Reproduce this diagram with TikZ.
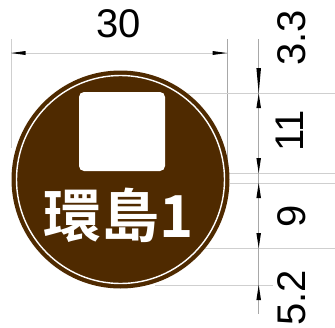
\documentclass[tikz,border=0pt]{standalone}
\usepackage{fontspec}
\setmainfont{Liberation Sans}
\newfontfamily\cjk{Noto Sans CJK TC}[BoldFont={* Bold}]
\definecolor{signbrown}{HTML}{4F2A00}
\definecolor{dimline}{HTML}{CFCFCF}
\definecolor{dimdark}{HTML}{A8A8A8}
\tikzset{
 extline/.style={draw=dimline,line width=0.9pt},
 dimv/.style={draw=dimdark,line width=0.7pt},
 tipa/.style={fill=black,draw=none},
 dimlabel/.style={font=\fontsize{40}{40}\selectfont,text=black,inner sep=0pt},
 rotlabel/.style={dimlabel,rotate=90}
}
\begin{document}
\begin{tikzpicture}[x=1pt,y=-1pt]
\useasboundingbox (0,0) rectangle (335,327);
\fill[white] (0,0) rectangle (335,327);
% extension lines
\coordinate (L1) at (11,39); \coordinate (L2) at (11,148);
\coordinate (R1) at (227,39); \coordinate (R2) at (227,170);
\draw[extline] (L1) -- (L2);
\draw[dimv] (R1) -- (R2);
\coordinate (H0a) at (165,93.5); \coordinate (H0b) at (335,93.5);
\coordinate (H1a) at (165,173); \coordinate (H1b) at (335,173);
\coordinate (H2a) at (230,183); \coordinate (H2b) at (335,183);
\coordinate (H3a) at (205,248); \coordinate (H3b) at (335,248);
\coordinate (H4a) at (155,285); \coordinate (H4b) at (273,285);
\draw[extline] (H0a) -- (H0b);
\draw[extline] (H1a) -- (H1b);
\draw[extline] (H2a) -- (H2b);
\draw[extline] (H3a) -- (H3b);
\draw[extline] (H4a) -- (H4b);
% sign
\fill[signbrown] (120.5,179.5) circle (109);
\draw[white,line width=1.4pt] (120.5,179.5) circle (104);
\fill[white,rounded corners=5pt] (79,92) rectangle (165,171);
\node[inner sep=0pt,text=white,font=\cjk\bfseries\fontsize{58}{58}\selectfont,anchor=center] (sign) at (119,215) {環島1};
% horizontal dimension
\draw[extline] (L1 |- 0,53) coordinate (DL) -- (R1 |- 0,53) coordinate (DR);
\fill[tipa] (DL) -- (25.5,51) -- (25.5,55) -- cycle;
\fill[tipa] (DR) -- (212.5,51) -- (212.5,55) -- cycle;
\node[dimlabel] (t30) at (118.5,23.5) {30};
% vertical dimension
\coordinate (V1) at (258.7,39); \coordinate (V2) at (258.7,314);
\draw[dimv] (V1) -- (V2);
\foreach \ya/\yb in {93.5/68,93.5/108,173/158,183/198,248/233,285/300}{
 \fill[tipa] (258.7,\ya) -- (256.4,\yb) -- (261,\yb) -- cycle;
}
\node[rotlabel] (t33) at (291.5,38) {3.3};
\node[rotlabel] (t11) at (290,131) {11};
\node[rotlabel] (t9) at (291.5,216) {9};
\node[rotlabel] (t52) at (291.5,298) {5.2};
\end{tikzpicture}
\end{document}
